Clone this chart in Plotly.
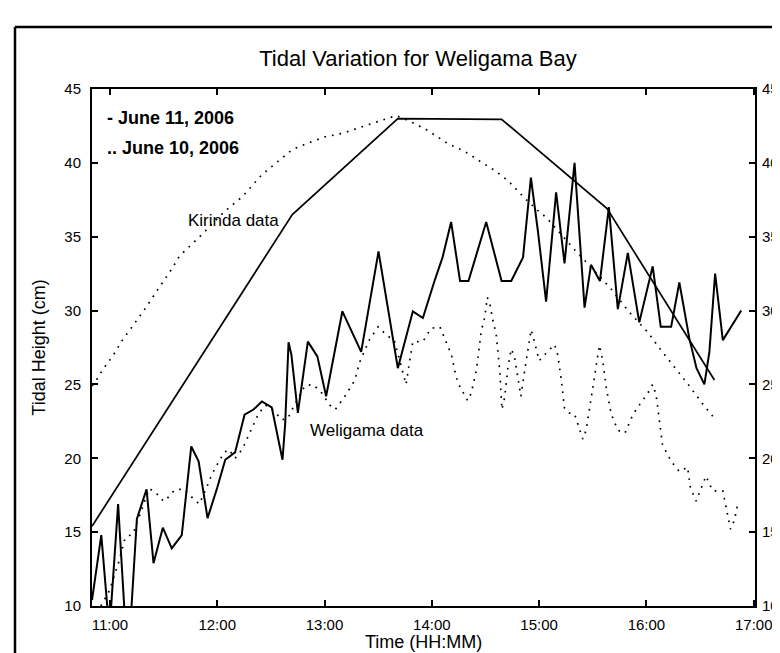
import pandas as pd
import plotly.graph_objects as go

BASE = pd.Timestamp("2006-06-11 11:00")

# ---- data (time = minutes after 11:00, height in cm) ----
kirinda_jun11_min = [-10, 102, 161, 219, 278, 338]
kirinda_jun11_cm = [15.4, 36.5, 43.0, 42.95, 36.9, 25.3]

kirinda_jun10_min = [-10, -7, -4, 2, 7, 13, 19, 25, 33.7, 39, 51, 64, 74, 85, 94, 102, 111,
                     120, 130, 139, 152, 160, 168, 177, 189, 198, 207, 215, 223, 232, 239,
                     244, 260, 280, 290, 301, 307, 315, 324, 331, 338]
kirinda_jun10_cm = [24.9, 25.4, 26.0, 27.0, 28.0, 29.0, 30.0, 31.1, 32.65, 33.7, 35.1, 36.7,
                    37.7, 39.2, 40.1, 40.9, 41.35, 41.75, 42.0, 42.35, 42.9, 43.2, 42.8, 42.25,
                    41.3, 40.8, 40.1, 39.5, 38.75, 37.6, 36.8, 36.3, 34.1, 31.5, 29.95, 28.5,
                    27.5, 26.3, 24.9, 23.75, 22.7]

weligama_jun11_min = [-10, -4.8, -1.2, 0.5, 4.6, 8.2, 11.9, 15.1, 20.5, 24.4, 29.6, 34.6, 40.2,
                      45.5, 49.6, 54.6, 60, 64.5, 70, 75.3, 80.3, 85, 90.5, 95.2, 96.5, 98,
                      99.9, 101.5, 105.1, 110.7, 116, 120.9, 130, 140.5, 150.2, 155.4, 161,
                      169.4, 175, 181.5, 186, 190.8, 195.8, 200.5, 210.4, 219, 224.4, 231,
                      235.4, 239.3, 243.9, 249.5, 254.2, 259.8, 265.4, 269, 274, 279, 284,
                      289.6, 296, 303.5, 308, 313.8, 318.4, 324, 328, 332.4, 335.2, 338.4,
                      342.7, 353]
weligama_jun11_cm = [10.4, 14.8, 9.6, 9.6, 16.9, 9.6, 9.6, 15.9, 17.9, 12.9, 15.3, 13.9, 14.8,
                     20.8, 19.8, 15.95, 18.0, 19.9, 20.4, 22.95, 23.3, 23.85, 23.45, 20.6, 19.9,
                     22.3, 27.85, 27.0, 23.07, 27.9, 26.9, 24.2, 29.95, 27.2, 34.0, 30.2, 26.1,
                     29.95, 29.5, 32.0, 33.6, 36.0, 32.0, 32.0, 36.0, 32.0, 32.0, 33.6, 39.0,
                     35.4, 30.6, 38.0, 33.2, 40.0, 30.2, 33.1, 32.0, 37.0, 30.1, 33.9, 29.2,
                     33.0, 28.9, 28.9, 31.9, 28.1, 26.1, 25.0, 27.2, 32.5, 28.0, 30.0]

weligama_jun10_min = [-5, 0, 5, 8.5, 13, 17, 22, 25.5, 29, 31, 34, 37, 41.5, 45.5, 50, 54, 57,
                      61, 64, 66.5, 70, 74, 77, 80, 83, 87, 92, 96, 99.5, 102.3, 109, 113.5,
                      118, 123, 126, 132, 137, 139.6, 145, 150, 155, 159, 163, 165.6, 167.5,
                      169.4, 175, 179.6, 184.5, 188, 191, 193.6, 195.5, 200, 202, 205, 207.6,
                      209.5, 211, 212.5, 214, 216, 217, 218, 219.2, 220.7, 222.5, 224.4, 226.2,
                      228, 229.8, 232, 234.6, 235.5, 237.4, 240, 243, 248.6, 250.4, 252.3,
                      254.2, 257, 259.8, 261.6, 264.4, 266.3, 269.1, 271.9, 273.7, 275.6,
                      277.5, 280.3, 284, 288, 292.4, 296, 300.7, 303.5, 305.4, 307.3, 309,
                      313.8, 318.4, 323, 324.6, 327.8, 330.6, 333.3, 337, 342.7, 344.5, 347,
                      349.2, 351]
weligama_jun10_cm = [10.0, 11.1, 13.0, 14.6, 14.9, 16.2, 17.95, 17.7, 17.2, 17.1, 17.6, 17.9,
                     17.9, 17.4, 16.9, 18.0, 18.9, 19.8, 20.4, 20.6, 20.0, 20.6, 21.4, 22.1,
                     23.0, 23.6, 23.2, 22.6, 22.7, 23.4, 24.9, 25.0, 24.5, 23.6, 23.3, 24.3,
                     25.3, 26.5, 28.0, 28.9, 28.3, 28.0, 26.1, 25.0, 26.5, 27.9, 27.9, 28.8,
                     28.9, 27.9, 27.0, 25.5, 24.9, 23.9, 24.4, 26.0, 28.6, 29.5, 30.9, 30.4,
                     29.4, 28.4, 27.0, 25.9, 23.3, 24.1, 26.1, 27.4, 26.9, 25.4, 24.2, 26.0,
                     28.1, 28.7, 27.9, 26.6, 27.0, 27.7, 27.0, 25.4, 23.4, 23.06, 23.0, 22.3,
                     21.3, 21.9, 24.0, 26.2, 27.65, 26.6, 24.8, 23.0, 21.9, 21.7, 22.95, 23.6,
                     24.4, 25.0, 24.3, 22.5, 20.9, 19.8, 19.1, 19.4, 18.0, 17.1, 18.0, 18.8,
                     17.8, 17.8, 16.7, 15.2, 15.8, 16.9]

x_tick_minutes = [0, 60, 120, 180, 240, 300, 360]
x_tick_labels = ["11:00", "12:00", "13:00", "14:00", "15:00", "16:00", "17:00"]
y_ticks = [10, 15, 20, 25, 30, 35, 40, 45]


def clock(mins):
    return [BASE + pd.Timedelta(minutes=m) for m in mins]


FONT = "Liberation Sans, Arial, sans-serif"
dotted = dict(color="black", width=1.7, dash="1.7px,6px")

fig = go.Figure()
fig.add_trace(go.Scatter(x=clock(kirinda_jun10_min), y=kirinda_jun10_cm, mode="lines",
                         line=dotted, name="Kirinda June 10", showlegend=False))
fig.add_trace(go.Scatter(x=clock(weligama_jun10_min), y=weligama_jun10_cm, mode="lines",
                         line=dotted, name="Weligama June 10", showlegend=False))
fig.add_trace(go.Scatter(x=clock(kirinda_jun11_min), y=kirinda_jun11_cm, mode="lines",
                         line=dict(color="black", width=1.7), name="Kirinda June 11",
                         showlegend=False))
fig.add_trace(go.Scatter(x=clock(weligama_jun11_min), y=weligama_jun11_cm, mode="lines",
                         line=dict(color="black", width=2), name="Weligama June 11",
                         showlegend=False))
fig.add_trace(go.Scatter(x=[], y=[], yaxis="y2", showlegend=False, hoverinfo="skip"))

L, R, T, B = 84, 33, 81, 55
W, H = 780, 653
pw, ph = W - L - R, H - T - B


def px_x(px):
    return (px - L) / pw


def px_y(py):
    return (H - B - py) / ph


axis_common = dict(ticks="inside", ticklen=6, tickwidth=1.5, tickcolor="black",
                   showline=True, linewidth=2, linecolor="black", showgrid=False,
                   zeroline=False, tickfont=dict(family=FONT, size=15, color="black"))

fig.update_layout(
    width=W, height=H,
    margin=dict(l=L, r=R, t=T, b=B, autoexpand=False),
    paper_bgcolor="white", plot_bgcolor="white",
    font=dict(family=FONT, color="black"),
    title=dict(text="Tidal Variation for Weligama Bay", x=410 / W, xref="container",
               xanchor="center", y=1 - 50 / H, yref="container", yanchor="middle",
               font=dict(family=FONT, size=22, color="black")),
    xaxis=dict(range=[BASE - pd.Timedelta(minutes=10), BASE + pd.Timedelta(minutes=360.7)],
               tickvals=clock(x_tick_minutes), ticktext=x_tick_labels, mirror="ticks",
               ticklabelstandoff=4, **axis_common),
    yaxis=dict(range=[10, 45], tickvals=y_ticks, ticklabelstandoff=6,
               title=dict(text="Tidal Height (cm)", font=dict(family=FONT, size=18), standoff=14),
               **axis_common),
    yaxis2=dict(range=[10, 45], tickvals=y_ticks, overlaying="y", side="right",
                ticklabelstandoff=2, **axis_common),
    annotations=[
        dict(text="Time (HH:MM)", xref="paper", yref="paper", x=0.5, y=px_y(634),
             xanchor="center", yanchor="middle", showarrow=False,
             font=dict(family=FONT, size=18)),
        dict(text="<b>- June 11, 2006</b>", xref="paper", yref="paper", x=px_x(97),
             y=px_y(110), xanchor="left", yanchor="middle", showarrow=False,
             font=dict(family=FONT, size=18)),
        dict(text="<b>.. June 10, 2006</b>", xref="paper", yref="paper", x=px_x(97),
             y=px_y(140), xanchor="left", yanchor="middle", showarrow=False,
             font=dict(family=FONT, size=18)),
        dict(text="Kirinda data", x=BASE + pd.Timedelta(minutes=69), y=36.1,
             xanchor="center", yanchor="middle", showarrow=False,
             font=dict(family=FONT, size=17)),
        dict(text="Weligama data", x=BASE + pd.Timedelta(minutes=144), y=21.9,
             xanchor="center", yanchor="middle", showarrow=False,
             font=dict(family=FONT, size=17)),
    ],
    shapes=[
        dict(type="line", xref="paper", yref="paper", x0=px_x(7), x1=px_x(7),
             y0=px_y(19), y1=px_y(660), line=dict(color="black", width=2.5)),
        dict(type="line", xref="paper", yref="paper", x0=px_x(7), x1=px_x(785),
             y0=px_y(19), y1=px_y(19), line=dict(color="black", width=2.5)),
    ],
)

fig.write_html("out.html")
